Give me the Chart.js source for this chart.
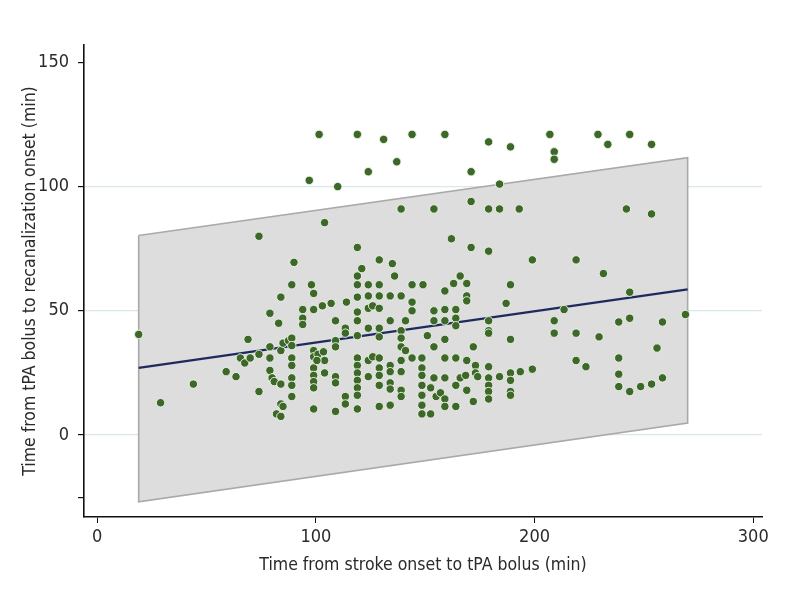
<!DOCTYPE html>
<html>
<head>
<meta charset="utf-8">
<script src="https://cdn.jsdelivr.net/npm/chart.js@4.4.0/dist/chart.umd.min.js"></script>
<style>
  html, body { margin: 0; padding: 0; background: #fff; }
  #wrap { width: 799px; height: 604px; }
</style>
</head>
<body>
<div id="wrap"><canvas id="chart"></canvas></div>
<script>
// time from stroke onset to tPA bolus (min)
const onsetMin = [
  19, 29, 44, 59, 63.5, 65.5, 67.5, 70, 69, 74, 74, 74,
  79, 79, 79, 79, 80, 81, 83, 84, 84, 84, 84, 85, 82, 84,
  85, 87.5, 89, 89, 89, 89, 89, 89, 89, 89, 90, 94, 94, 94,
  97, 98, 99, 99, 99, 99, 99, 99, 99, 99, 99, 101, 101.5, 103, 103.5, 104, 100.5, 104, 104,
  107, 109, 109, 109, 109, 109, 109, 110, 113.5, 113.5, 113.5, 113.5, 114,
  119, 119, 119, 119, 119, 119, 119, 119, 119, 119, 119, 119, 119, 119, 119, 121,
  124, 124, 124, 124, 124, 124, 124, 126, 126,
  129, 129, 129, 129, 129, 129, 129, 129, 129, 129, 129, 131,
  134, 134, 134, 134, 134, 134, 134, 135, 136, 137,
  139, 139, 139, 139, 139, 139, 139, 139, 139, 141, 141,
  144, 144, 144, 144, 144, 149, 148.5, 148.5, 148.5, 148.5, 148.5, 148.5, 148.5, 151,
  152.5, 152.5, 154, 154, 154, 154, 154, 155, 157,
  159, 159, 159, 159, 159, 159, 159, 159, 159, 162,
  163, 164, 164, 164, 164, 164, 164, 166, 166, 168.5,
  169, 169, 169, 169, 169, 171, 171, 171, 172, 172, 173, 173, 174,
  179, 179, 179, 179, 179, 179, 179, 179, 179, 179, 179,
  184, 184, 184, 187, 189, 189, 189, 189, 189, 189, 189, 193, 193.5,
  199, 199, 207, 209, 209, 209, 209, 213.5, 219, 219, 219, 223.5,
  229, 229.5, 231.5, 233.5, 238.5, 238.5, 238.5, 238.5, 242,
  243.5, 243.5, 243.5, 243.5, 248.5, 253.5, 253.5, 253.5, 256, 258.5, 258.5, 269
];
// time from tPA bolus to recanalization onset (min)
const recanMin = [
  40.5, 13, 20.5, 25.5, 23.5, 31, 29, 31, 38.5, 32.5, 17.5, 80,
  49, 35.5, 31, 26, 23, 21.5, 45, 55.5, 34, 20.5, 12.5, 11.5, 8.5, 7.5,
  37, 38, 39, 36, 31, 28, 23, 20, 15.5, 60.5, 69.5, 50.5, 47, 44.5,
  102.5, 60.5, 57, 50.5, 34, 31.5, 27, 24, 21.5, 19, 10.5, 32.5, 121, 52, 33.5, 30, 30, 25, 85.5,
  53, 46, 38, 35.5, 23.5, 21, 9.5, 100, 43, 41, 15.5, 12.5, 53.5,
  121, 75.5, 64, 60.5, 55.5, 49.5, 46, 40, 31, 28, 25, 22, 19, 16, 10.5, 67,
  106, 60.5, 56, 51, 43, 30, 23.5, 52, 31.5,
  70.5, 60.5, 56, 51, 43, 39.5, 31, 27, 24, 20, 11.5, 119,
  56, 46, 28, 25.5, 21, 18.5, 12, 69, 64, 110,
  91, 56, 42, 39, 35.5, 30, 25.5, 18, 15.5, 46, 34,
  121, 60.5, 53.5, 50, 31, 60.5, 31, 27, 24, 20, 16, 12, 8.5, 40,
  19, 8.5, 91, 50, 46, 35.5, 23, 15.5, 17,
  121, 58, 50.5, 46, 38.5, 31, 23, 14.5, 11.5, 79,
  61, 50.5, 47, 44, 31, 20, 11.5, 64, 23, 24,
  61, 56, 54, 30, 18, 106, 94, 75.5, 35.5, 13.5, 28, 25, 23.5,
  118, 91, 74, 46, 42, 41, 27.5, 23, 20, 17.5, 14.5,
  101, 91, 23.5, 53, 116, 60.5, 38.5, 25, 22, 17.5, 16, 91, 25.5,
  70.5, 26.5, 121, 114, 111, 46, 41, 50.5, 70.5, 41, 30, 27.5,
  121, 39.5, 65, 117, 45.5, 31, 24.5, 19.5, 91,
  121, 57.5, 47, 17.5, 19.5, 117, 89, 20.5, 35, 45.5, 23, 48.5
];

// fitted line and prediction band, at both ends of the data range
const fitX = [19, 270];
const fitY = [27, 58.6];
const bandUpper = [80.3, 111.6];
const bandLower = [-26.9, 4.8];

const yTicks = [-25, 0, 50, 100, 150];
const yLabelled = [0, 50, 100, 150];
const yGrid = [0, 50, 100];
const xTicks = [0, 100, 200, 300];

const points = onsetMin.map((x, i) => ({ x: x, y: recanMin[i] }));
const fitLine = fitX.map((x, i) => ({ x: x, y: fitY[i] }));
// closed outline of the band: along the top, down the right edge, back along the bottom
const bandShape = [
  { x: fitX[0], y: bandUpper[0] },
  { x: fitX[1], y: bandUpper[1] },
  { x: fitX[1], y: bandLower[1] },
  { x: fitX[0], y: bandLower[0] },
  { x: fitX[0], y: bandUpper[0] },
];

const font = "'DejaVu Sans Condensed', 'Liberation Sans Narrow', 'Liberation Sans', sans-serif";
const textColor = '#2a2a2a';

new Chart(document.getElementById('chart'), {
  type: 'scatter',
  data: {
    datasets: [
      {
        label: 'Patients',
        data: points,
        pointRadius: 4.2,
        pointBackgroundColor: '#3d682a',
        pointBorderColor: 'rgba(240,248,232,0.9)',
        pointBorderWidth: 1,
        order: 0,
      },
      {
        label: 'Fit',
        data: fitLine,
        showLine: true,
        borderColor: '#1e2a5e',
        borderWidth: 2.2,
        pointRadius: 0,
        order: 1,
      },
      {
        label: 'Band',
        data: bandShape,
        showLine: true,
        fill: 'shape',
        backgroundColor: '#dddddd',
        borderColor: '#a9a9a9',
        borderWidth: 1.6,
        pointRadius: 0,
        order: 2,
      },
    ],
  },
  options: {
    responsive: true,
    maintainAspectRatio: false,
    animation: false,
    layout: { padding: { top: 45, right: 37, bottom: 28, left: 20 } },
    plugins: {
      legend: { display: false },
      tooltip: { enabled: false },
    },
    scales: {
      x: {
        type: 'linear',
        min: -6,
        max: 304,
        afterBuildTicks: (axis) => { axis.ticks = xTicks.map(v => ({ value: v })); },
        afterFit: (axis) => { axis.height = 59; },
        border: { color: '#111', width: 1.6 },
        grid: { drawOnChartArea: false, drawTicks: true, tickLength: 6, tickColor: '#111' },
        ticks: {
          color: textColor,
          font: { family: font, size: 18 },
          padding: 4,
          maxRotation: 0,
        },
        title: {
          display: true,
          text: 'Time from stroke onset to tPA bolus (min)',
          color: textColor,
          font: { family: font, size: 17.5 },
          padding: { top: 2, bottom: 0 },
        },
      },
      y: {
        type: 'linear',
        min: -33,
        max: 157,
        afterBuildTicks: (axis) => { axis.ticks = yTicks.map(v => ({ value: v })); },
        afterFit: (axis) => { axis.width = 64; },
        border: { color: '#111', width: 1.6 },
        grid: {
          drawTicks: true,
          tickLength: 6,
          tickColor: '#111',
          lineWidth: 1.2,
          color: (ctx) => (ctx.tick && yGrid.includes(ctx.tick.value)) ? '#dbe8eb' : 'rgba(0,0,0,0)',
        },
        ticks: {
          color: textColor,
          font: { family: font, size: 18 },
          padding: 9,
          callback: (v) => yLabelled.includes(v) ? String(v) : '',
        },
        title: {
          display: true,
          text: 'Time from tPA bolus to recanalization onset (min)',
          color: textColor,
          font: { family: font, size: 17.5 },
          padding: { top: 0, bottom: 2 },
        },
      },
    },
  },
});
</script>
</body>
</html>
